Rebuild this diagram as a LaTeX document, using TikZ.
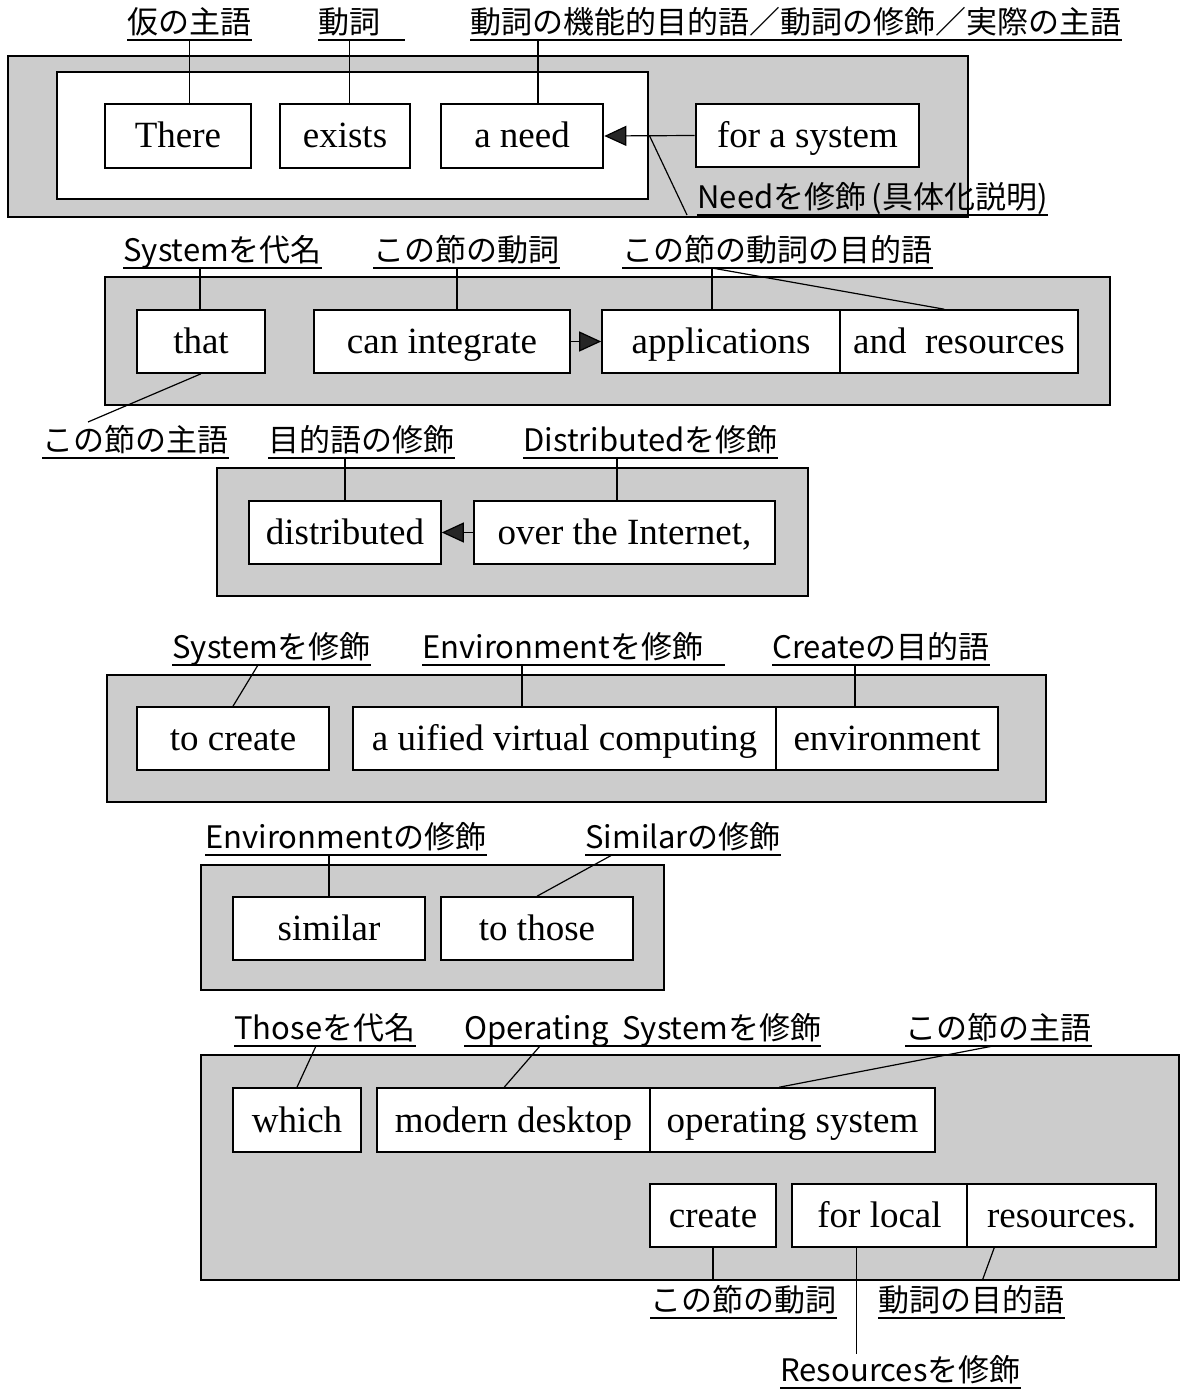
\documentclass[tikz,border=0pt]{standalone}
\usepackage{fontspec}
\setmainfont{Liberation Serif}
\newfontfamily\jp{Noto Sans CJK JP}
\usetikzlibrary{arrows.meta,calc}
\newcommand{\boxat}[7]{\node[#1, minimum width={(#5-#3)*0.5pt}, minimum height={(#6-#4)*0.5pt}] (#2) at ({(#3+#5)/2},{(#4+#6)/2}) {#7};}
\newcommand{\ulabel}[5]{\node[lbl, anchor=south west] (#1) at (#2,#3) {#4};
  \draw[conn] (#1.south west) -- ([xshift=#5*0.5pt]#1.south east);}
\begin{document}
\begin{tikzpicture}[x=0.5pt,y=-0.5pt,
  frame/.style={draw=black, line width=0.7pt, fill=black!20, inner sep=0pt},
  inner/.style={draw=black, line width=1pt, fill=white, inner sep=0pt},
  wbox/.style={draw=black, line width=0.8pt, fill=white, inner sep=0pt, text height=12.5pt, text depth=0.5pt, font=\fontsize{18.5}{22}\selectfont},
  wboxb/.style={wbox, line width=1.3pt},
  lbl/.style={font=\jp\fontsize{15.5}{18}\selectfont, inner xsep=0pt, inner ysep=1.5pt, text height=12pt, text depth=1.5pt},
  conn/.style={draw=black, line width=0.6pt},
  arr/.style={conn, -{Triangle[length=11pt,width=10pt,fill=black!85]}}]
\useasboundingbox (0,0) rectangle (1180,1390);
% ---------- Row 1
\boxat{frame}{f1}{8}{56}{968}{217}{}
\boxat{inner}{f1i}{57}{72}{648}{199}{}
\boxat{wboxb}{there}{105}{104}{251}{168}{There}
\boxat{wboxb}{exists}{280}{104}{410}{168}{exists}
\boxat{wboxb}{need}{441}{104}{603}{168}{a need}
\boxat{wboxb}{sys}{696}{104}{919}{167}{for a system}
\ulabel{L1}{127}{40}{仮の主語}{0}
\ulabel{L2}{318}{40}{動詞}{24}
\ulabel{L3}{470}{40}{動詞の機能的目的語／動詞の修飾／実際の主語}{0}
\ulabel{Ln}{697}{215}{Needを修飾\,(具体化説明)}{0}
\draw[conn] (L1.south) -- (L1.south |- there.north);
\draw[conn] (L2.south) -- (L2.south |- exists.north);
\coordinate (a3) at ([xshift=34pt]L3.south west);
\draw[conn] (a3) -- (a3 |- need.north);
\draw[arr] (sys.west) -- (need.east);
\coordinate (a4) at ($(need.east)!0.5!(sys.west)$);
\draw[conn] (a4) -- ([xshift=-5pt]Ln.south west);
% ---------- Row 2
\boxat{frame}{f2}{105}{277}{1110}{405}{}
\boxat{wbox}{that}{137}{310}{265}{373}{that}
\boxat{wbox}{ci}{314}{310}{570}{373}{can integrate}
\boxat{wbox}{apps}{602}{310}{840}{373}{applications}
\boxat{wbox}{ar}{840}{310}{1078}{373}{and\enspace resources}
\ulabel{S1}{123}{268}{Systemを代名}{0}
\ulabel{S2}{373}{268}{この節の動詞}{0}
\ulabel{S3}{622}{268}{この節の動詞の目的語}{0}
\ulabel{S4}{42}{458}{この節の主語}{0}
\coordinate (b1) at ([xshift=38.5pt]S1.south west);
\draw[conn] (b1) -- (b1 |- that.north);
\coordinate (b2) at ([xshift=42pt]S2.south west);
\draw[conn] (b2) -- (b2 |- ci.north);
\coordinate (b3) at ([xshift=45pt]S3.south west);
\draw[conn] (b3) -- (b3 |- apps.north);
\draw[conn] (b3) -- ([xshift=52.5pt]ar.north west);
\draw[arr] (ci.east) -- (apps.west);
\coordinate (b4) at (88,422);
\draw[conn] (that.south) -- (b4);
% ---------- Row 3
\boxat{frame}{f3}{217}{468}{808}{596}{}
\boxat{wbox}{dist}{249}{501}{441}{564}{distributed}
\boxat{wbox}{over}{474}{501}{775}{564}{over the Internet,}
\ulabel{D1}{268}{458}{目的語の修飾}{0}
\ulabel{D2}{523}{458}{Distributedを修飾}{0}
\coordinate (c1) at ([xshift=38.5pt]D1.south west);
\draw[conn] (c1) -- (c1 |- dist.north);
\coordinate (c2) at ([xshift=47pt]D2.south west);
\draw[conn] (c2) -- (c2 |- over.north);
\draw[arr] (over.west) -- (dist.east);
% ---------- Row 4
\boxat{frame}{f4}{107}{675}{1046}{802}{}
\boxat{wbox}{tc}{137}{707}{329}{770}{to create}
\boxat{wbox}{uvc}{353}{707}{776}{770}{a uified virtual computing}
\boxat{wbox}{env}{776}{707}{998}{770}{environment}
\ulabel{C1}{172}{665}{Systemを修飾}{0}
\ulabel{C2}{422}{665}{Environmentを修飾}{21}
\ulabel{C3}{772}{665}{Createの目的語}{0}
\coordinate (d1) at ([xshift=43pt]C1.south west);
\draw[conn] (d1) -- (tc.north);
\coordinate (d2) at ([xshift=50pt]C2.south west);
\draw[conn] (d2) -- (d2 |- uvc.north);
\coordinate (d3) at ([xshift=41.5pt]C3.south west);
\draw[conn] (d3) -- (d3 |- env.north);
% ---------- Row 5
\boxat{frame}{f5}{201}{865}{664}{990}{}
\boxat{wbox}{sim}{233}{897}{425}{960}{similar}
\boxat{wbox}{those}{441}{897}{633}{960}{to those}
\ulabel{E1}{205}{855}{Environmentの修飾}{0}
\ulabel{E2}{585}{855}{Similarの修飾}{0}
\coordinate (e1) at ([xshift=62pt]E1.south west);
\draw[conn] (e1) -- (e1 |- sim.north);
\coordinate (e2) at ([xshift=13.5pt]E2.south west);
\draw[conn] (e2) -- (those.north);
% ---------- Row 6
\boxat{frame}{f6}{201}{1055}{1179}{1280}{}
\boxat{wbox}{which}{233}{1088}{361}{1152}{which}
\boxat{wbox}{md}{377}{1088}{650}{1152}{modern desktop}
\boxat{wbox}{os}{650}{1088}{935}{1152}{operating system}
\boxat{wbox}{cr}{650}{1184}{776}{1247}{create}
\boxat{wbox}{fl}{792}{1184}{967}{1247}{for local}
\boxat{wbox}{rs}{967}{1184}{1156}{1247}{resources.}
\ulabel{T1}{234}{1046}{Thoseを代名}{0}
\ulabel{T2}{464}{1046}{Operating\ \ Systemを修飾}{0}
\ulabel{T3}{905}{1046}{この節の主語}{0}
\ulabel{B1}{650}{1318}{この節の動詞}{0}
\ulabel{B2}{878}{1318}{動詞の目的語}{0}
\ulabel{B3}{780}{1388}{Resourcesを修飾}{0}
\coordinate (g1) at ([xshift=41pt]T1.south west);
\draw[conn] (g1) -- (which.north);
\coordinate (g2) at ([xshift=38pt]T2.south west);
\draw[conn] (g2) -- ([xshift=64pt]md.north west);
\coordinate (g3) at ([xshift=44pt]T3.south west);
\draw[conn] (g3) -- ([xshift=65pt]os.north west);
\draw[conn] (cr.south) -- (cr.south |- f6.south);
\draw[conn] ([xshift=14pt]rs.south west) -- ([xshift=8pt]rs.south west |- f6.south);
\coordinate (h1) at ([xshift=32.5pt]fl.south west);
\draw[conn] (h1) -- (h1 |- B3.north);
\end{tikzpicture}
\end{document}
